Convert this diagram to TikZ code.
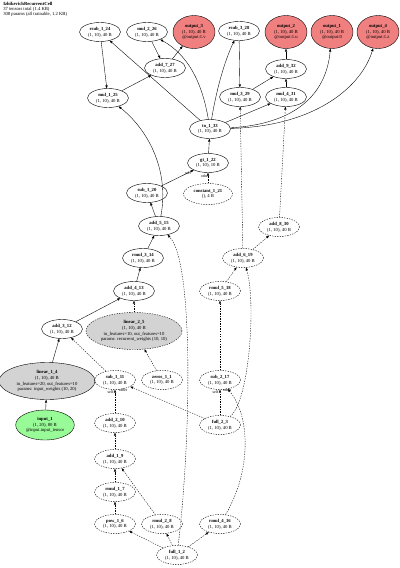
\documentclass[tikz,border=0pt]{standalone}
\usepackage{fontspec}
\setmainfont{Liberation Serif}
\usetikzlibrary{arrows.meta,shapes.geometric}
\definecolor{outred}{HTML}{F08080}
\definecolor{ingreen}{HTML}{98FB98}
\definecolor{paramgray}{HTML}{D3D3D3}

\begin{document}
\begin{tikzpicture}[x=0.75pt,y=-0.75pt,>={Triangle[length=2.2pt,width=1.7pt]},
    font=\fontsize{3.5}{4.4}\selectfont,
    tensor/.style={ellipse,draw,line width=0.3pt,inner sep=0pt,align=center,
      minimum width=30.75pt,minimum height=14.25pt},
    nograd/.style={dash pattern=on 1pt off 0.9pt},
    outnode/.style={tensor,fill=outred,minimum width=31.5pt,minimum height=24.75pt},
    innode/.style={tensor,fill=ingreen,minimum width=44pt,minimum height=22.5pt},
    layer/.style={tensor,fill=paramgray,minimum width=72pt,minimum height=27.75pt},
    link/.style={->,line width=0.28pt},
    dlink/.style={link,nograd},
    elabel/.style={inner sep=0pt,font=\fontsize{3}{3.5}\selectfont}]
  \useasboundingbox (0,0) rectangle (400,568);

  % header
  \node[anchor=north west,align=left,inner sep=0pt,font=\fontsize{3.5}{4}\selectfont] (head) at (3,1.5)
    {\textbf{IzhikevichRecurrentCell}\\37 tensors total (1.4 KB)\\308 params (all trainable, 1.2 KB)};

  % outputs
  \node[outnode] (out3) at (194,32) {\textbf{output\_3}\\(1, 10), 40 B\\@output:1.v};
  \node[outnode] (out2) at (286,32) {\textbf{output\_2}\\(1, 10), 40 B\\@output:1.u};
  \node[outnode] (out1) at (332,32) {\textbf{output\_1}\\(1, 10), 40 B\\@output:0};
  \node[outnode] (out4) at (378,32) {\textbf{output\_4}\\(1, 10), 40 B\\@output:1.z};

  % spike reset
  \node[tensor] (rsub124) at (100,32) {\textbf{rsub\_1\_24}\\(1, 10), 40 B};
  \node[tensor] (mul226) at (147,32) {\textbf{mul\_2\_26}\\(1, 10), 40 B};
  \node[tensor] (rsub328) at (239,31) {\textbf{rsub\_3\_28}\\(1, 10), 40 B};
  \node[tensor] (add727) at (165,68) {\textbf{add\_7\_27}\\(1, 10), 40 B};
  \node[tensor] (add932) at (286,69) {\textbf{add\_9\_32}\\(1, 10), 40 B};
  \node[tensor] (mul125) at (108,98) {\textbf{mul\_1\_25}\\(1, 10), 40 B};
  \node[tensor] (mul329) at (240,97) {\textbf{mul\_3\_29}\\(1, 10), 40 B};
  \node[tensor] (mul431) at (286,97) {\textbf{mul\_4\_31}\\(1, 10), 40 B};
  \node[tensor] (to133) at (210,129) {\textbf{to\_1\_33}\\(1, 10), 40 B};
  \node[tensor] (gt122) at (208,163) {\textbf{gt\_1\_22}\\(1, 10), 10 B};
  \node[tensor] (sub120) at (147,193) {\textbf{sub\_1\_20}\\(1, 10), 40 B};
  \node[tensor,nograd,minimum width=36.75pt,minimum height=15.75pt] (const121) at (208,194)
    {\textbf{constant\_1\_21}\\(), 4 B};

  % membrane update
  \node[tensor] (add515) at (159,226) {\textbf{add\_5\_15}\\(1, 10), 40 B};
  \node[tensor] (rmul314) at (143,258) {\textbf{rmul\_3\_14}\\(1, 10), 40 B};
  \node[tensor] (add413) at (134,291) {\textbf{add\_4\_13}\\(1, 10), 40 B};
  \node[tensor] (add312) at (62,329) {\textbf{add\_3\_12}\\(1, 10), 40 B};
  \node[layer,nograd] (lin25) at (134,331)
    {\textbf{linear\_2\_5}\\(1, 10), 40 B\\in\_features=10, out\_features=10\\params: recurrent\_weights (10, 10)};
  \node[layer] (lin14) at (47,381)
    {\textbf{linear\_1\_4}\\(1, 10), 40 B\\in\_features=20, out\_features=10\\params: input\_weights (10, 20)};
  \node[tensor,nograd] (sub111) at (115,380) {\textbf{sub\_1\_11}\\(1, 10), 40 B};
  \node[tensor,nograd] (zeros11) at (162,380) {\textbf{zeros\_1\_1}\\(1, 10), 40 B};
  \node[innode] (input1) at (45,425) {\textbf{input\_1}\\(1, 20), 80 B\\@input.input\_tensor};

  % recovery update
  \node[tensor,nograd] (add830) at (279,227) {\textbf{add\_8\_30}\\(1, 10), 40 B};
  \node[tensor,nograd] (add619) at (243,258) {\textbf{add\_6\_19}\\(1, 10), 40 B};
  \node[tensor,nograd] (rmul518) at (220,291) {\textbf{rmul\_5\_18}\\(1, 10), 40 B};
  \node[tensor,nograd] (sub217) at (220,380) {\textbf{sub\_2\_17}\\(1, 10), 40 B};
  \node[tensor,nograd] (full23) at (220,425) {\textbf{full\_2\_3}\\(1, 10), 40 B};
  \node[tensor,nograd] (rmul416) at (220,524) {\textbf{rmul\_4\_16}\\(1, 10), 40 B};

  % quadratic term
  \node[tensor,nograd] (add210) at (115,423) {\textbf{add\_2\_10}\\(1, 10), 40 B};
  \node[tensor,nograd] (add19) at (115,459) {\textbf{add\_1\_9}\\(1, 10), 40 B};
  \node[tensor,nograd] (rmul17) at (115,492) {\textbf{rmul\_1\_7}\\(1, 10), 40 B};
  \node[tensor,nograd] (pow16) at (115,524) {\textbf{pow\_1\_6}\\(1, 10), 40 B};
  \node[tensor,nograd] (rmul28) at (162,524) {\textbf{rmul\_2\_8}\\(1, 10), 40 B};
  \node[tensor,nograd] (full12) at (177,555) {\textbf{full\_1\_2}\\(1, 10), 40 B};

  % edges, input side
  \draw[link] (input1) -- (lin14);
  \draw[link] (lin14) -- (add312);
  \draw[dlink] (sub111) -- (add312);
  \draw[link] (add312) -- (add413);
  \draw[dlink] (zeros11) -- (lin25);
  \draw[dlink] (lin25) -- (add413);
  \draw[link] (add413) -- (rmul314);
  \draw[link] (rmul314) -- (add515);
  \draw[dlink] (full12) .. controls (191,440) and (194,262) .. (add515);
  \draw[link] (add515) -- (sub120);
  \draw[link] (add515) .. controls (170,168) and (146,128) .. (mul125);

  % threshold
  \draw[link] (sub120) -- (gt122);
  \draw[dlink] (const121) -- (gt122);
  \node[elabel] (self1) at (188,173) {self};
  \node[elabel] (other1) at (205,176.5) {other};
  \draw[link] (gt122) -- (to133);

  % spike fan-out
  \draw[link] (to133) -- (rsub124);
  \draw[link] (to133) .. controls (202,82) and (188,55) .. (mul226);
  \draw[link] (to133) .. controls (216,92) and (224,62) .. (rsub328);
  \draw[link] (to133) -- (mul431);
  \draw[link] (to133) .. controls (295,124) and (326,95) .. (out1);
  \draw[link] (to133) .. controls (318,126) and (362,85) .. (out4);
  \draw[link] (rsub124) -- (mul125);
  \draw[link] (mul125) -- (add727);
  \draw[link] (mul226) -- (add727);
  \draw[link] (add727) -- (out3);
  \draw[link] (rsub328) -- (mul329);
  \draw[dlink] (add619) -- (mul329);
  \draw[link] (mul329) -- (add932);
  \draw[dlink] (add830) -- (mul431);
  \draw[link] (mul431) -- (add932);
  \draw[link] (add932) -- (out2);

  % recovery edges
  \draw[dlink] (add619) -- (add830);
  \draw[dlink] (rmul518) -- (add619);
  \draw[dlink] (full23) .. controls (250,400) and (256,300) .. (add619);
  \draw[dlink] (sub217) -- (rmul518);
  \draw[dlink] (full23) -- (sub217);
  \draw[dlink] (rmul416) .. controls (252,470) and (250,415) .. (sub217);
  \node[elabel] (self3) at (215.5,392) {self};
  \node[elabel] (other3) at (227,390) {other};

  % quadratic edges
  \draw[dlink] (full12) -- (rmul416);
  \draw[dlink] (full12) -- (rmul28);
  \draw[dlink] (full12) -- (pow16);
  \draw[dlink] (pow16) -- (rmul17);
  \draw[dlink] (rmul17) -- (add19);
  \draw[dlink] (rmul28) -- (add19);
  \draw[dlink] (add19) -- (add210);
  \draw[dlink] (add210) -- (sub111);
  \draw[dlink] (full23) -- (sub111);
  \node[elabel] (self2) at (110.5,392) {self};
  \node[elabel] (other2) at (123,390) {other};
\end{tikzpicture}
\end{document}
